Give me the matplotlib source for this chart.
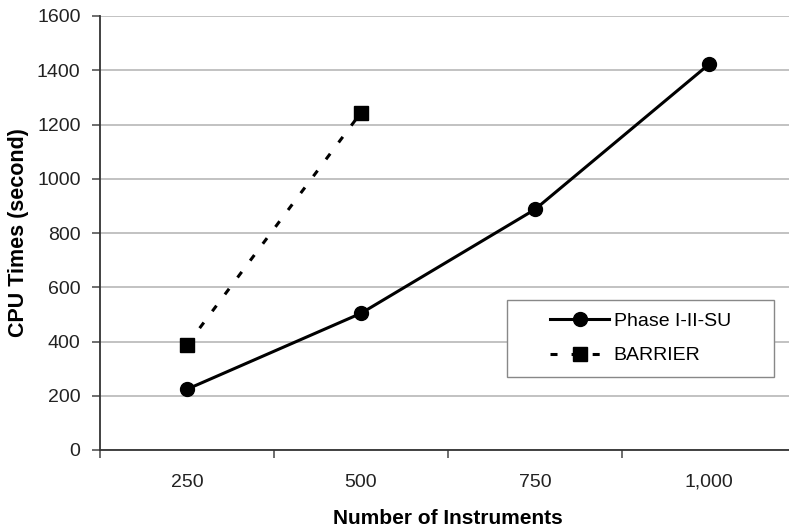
# CPU time vs number of instruments, Phase I-II-SU vs BARRIER

import matplotlib
matplotlib.use("Agg")
import matplotlib.pyplot as plt
from matplotlib.patches import Rectangle
from matplotlib.ticker import FixedLocator

plt.rcParams["font.family"] = ["Liberation Sans", "DejaVu Sans"]

categories = ["250", "500", "750", "1,000"]
phase_times = [224, 504, 887, 1422]
barrier_times = [387, 1244]

W, H = 789, 528
fig = plt.figure(figsize=(W / 100, H / 100), dpi=100)
ax = fig.add_axes([100 / W, (H - 450) / H, 696 / W, 434 / H])

x = list(range(len(categories)))

# Gridlines behind everything
ax.set_axisbelow(True)
ax.yaxis.grid(True, color="#b8b8b8", linewidth=1.2)

ax.plot(x, phase_times, "k-", marker="o", markersize=10, linewidth=2.2,
        label="Phase I-II-SU")
ax.plot(x[:len(barrier_times)], barrier_times, color="k", linestyle=(0, (2.3, 4.6)),
        marker="s", markersize=9.5, linewidth=2.2, label="BARRIER")

ax.set_xlim(-0.5, len(categories) - 0.5)
ax.set_ylim(0, 1600)
ax.set_yticks(range(0, 1601, 200))
ax.set_xticks(x)
ax.set_xticklabels(categories)
ax.xaxis.set_minor_locator(FixedLocator([i - 0.5 for i in range(len(categories) + 1)]))
ax.tick_params(axis="x", which="major", length=0, pad=17, labelsize=14, colors="#222222")
ax.tick_params(axis="x", which="minor", length=6, width=1.2, color="#555555")
ax.tick_params(axis="y", length=6, width=1.2, color="#555555", labelsize=14,
               labelcolor="#222222", pad=8)

for side in ["top", "right"]:
    ax.spines[side].set_visible(False)
for side in ["left", "bottom"]:
    ax.spines[side].set_color("#333333")
    ax.spines[side].set_linewidth(1.3)

ax.set_ylabel("CPU Times (second)", fontsize=15.5, fontweight="bold", labelpad=6)
ax.set_xlabel("Number of Instruments", fontsize=15, fontweight="bold", labelpad=13)

# Legend frame drawn separately so the entries sit centred in a wider box
box_x0, box_y0 = (507 - 100) / 696, (450 - 377) / 434
box_w, box_h = (774 - 507) / 696, (377 - 300) / 434
ax.add_patch(Rectangle((box_x0, box_y0), box_w, box_h, transform=ax.transAxes,
                       facecolor="white", edgecolor="#888888", linewidth=1.0, zorder=4))
leg = ax.legend(loc="center", bbox_to_anchor=(box_x0 + box_w / 2, box_y0 + box_h / 2),
                frameon=False, fontsize=14, handlelength=3.0, labelspacing=0.85,
                handletextpad=0.25, borderpad=0, borderaxespad=0)
leg.set_zorder(5)

fig.savefig("out.png", dpi=100)
